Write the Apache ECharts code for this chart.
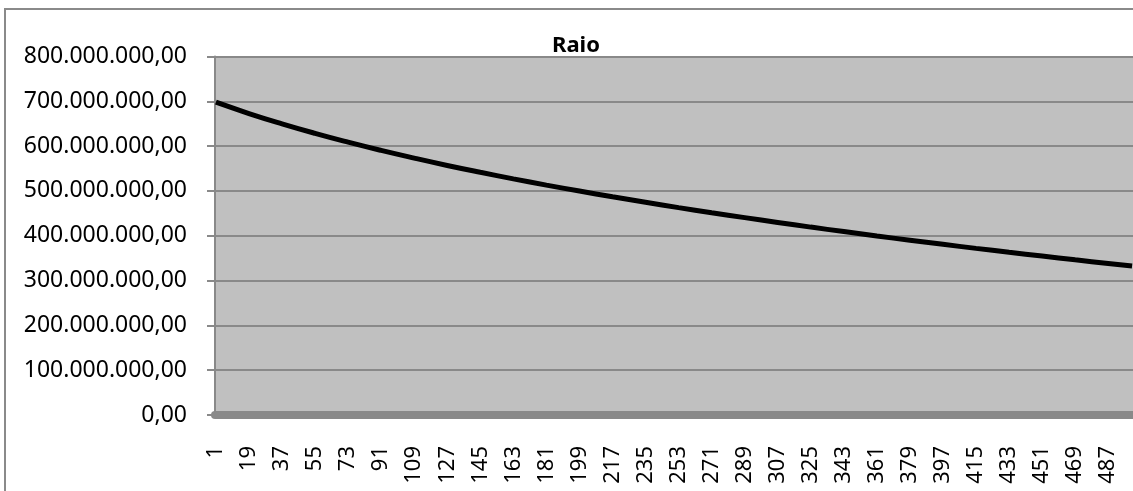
<!DOCTYPE html>
<html>
<head>
<meta charset="utf-8">
<script src="https://cdn.jsdelivr.net/npm/echarts@6/dist/echarts.min.js"></script>
<style>
html,body{margin:0;padding:0;background:#fff;overflow:hidden;}
#chart{width:1133px;height:491px;position:absolute;left:0;top:0;}
#frame{position:absolute;left:4px;top:8px;width:2000px;height:2000px;border-left:2px solid #8a8a8a;border-top:2px solid #8a8a8a;pointer-events:none;}
</style>
</head>
<body>
<div id="chart"></div>
<div id="frame"></div>
<script>
// Chart data
const titleText = 'Raio';
const categoryCount = 500;           // categories 1..500
const sampleCategories = [1, 19, 37, 55, 73, 91, 109, 127, 145, 163, 181, 199, 217, 235, 253, 271, 289, 307, 325, 343, 361, 379, 397, 415, 433, 451, 469, 487, 500];
const sampleValuesMillions = [698, 672.8, 649.8, 628.5, 608.8, 590.4, 573.2, 556.9, 541.6, 527, 513, 499.7, 486.9, 474.7, 462.8, 451.4, 440.4, 429.7, 419.3, 409.3, 399.5, 390, 380.8, 371.8, 363.1, 354.6, 346.3, 338.2, 332.5];
const yMin = 0, yMax = 800000000, yStep = 100000000;

const categories = [];
for (let i = 1; i <= categoryCount; i++) categories.push(String(i));
const seriesData = new Array(categoryCount).fill(null);
sampleCategories.forEach((c, i) => { seriesData[c - 1] = sampleValuesMillions[i] * 1e6; });

function fmtBR(v) {
  const s = Math.round(v).toString().replace(/\B(?=(\d{3})+(?!\d))/g, '.');
  return s + ',00';
}

const chart = echarts.init(document.getElementById('chart'), null, {renderer: 'canvas'});
chart.setOption({
  animation: false,
  backgroundColor: 'transparent',
  title: {
    text: titleText,
    left: 547,
    top: 30,
    textStyle: {fontFamily: 'Noto Sans', fontSize: 22, fontWeight: 'bold', color: '#000'}
  },
  grid: {
    left: 215, right: -3, top: 56.5, bottom: 76,
    show: true, backgroundColor: '#c0c0c0', borderWidth: 0
  },
  xAxis: {
    type: 'category',
    data: categories,
    boundaryGap: true,
    offset: 4,
    axisLine: {show: true, lineStyle: {color: '#898989', width: 8}},
    axisTick: {show: false},
    splitLine: {show: false},
    axisLabel: {
      interval: 17,
      rotate: 90,
      margin: 27,
      fontFamily: 'Noto Sans',
      fontSize: 22,
      color: '#000'
    }
  },
  yAxis: {
    type: 'value',
    min: yMin, max: yMax, interval: yStep,
    axisLine: {show: true, lineStyle: {color: '#898989', width: 2}},
    axisTick: {show: true, length: 8, lineStyle: {color: '#898989', width: 2}},
    splitLine: {show: true, lineStyle: {color: '#898989', width: 2}},
    axisLabel: {
      formatter: fmtBR,
      margin: 28,
      fontFamily: 'Noto Sans',
      fontSize: 23,
      color: '#000'
    }
  },
  series: [{
    type: 'line',
    data: seriesData,
    connectNulls: true,
    showSymbol: false,
    symbol: 'none',
    smooth: true,
    lineStyle: {color: '#000', width: 5},
    z: 5
  }]
});
</script>
</body>
</html>
